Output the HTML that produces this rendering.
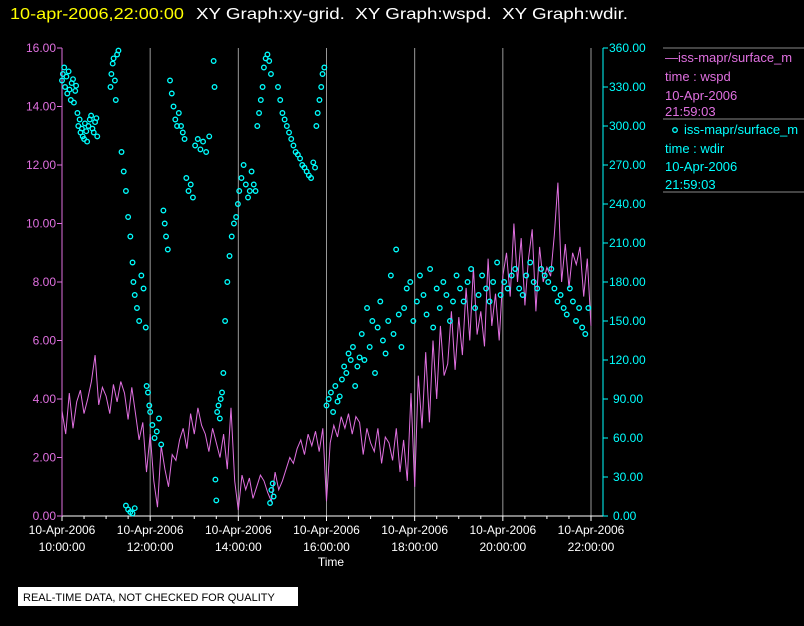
<!DOCTYPE html>
<html><head><meta charset="utf-8"><style>
body{margin:0;background:#000;width:804px;height:626px;overflow:hidden;font-family:"Liberation Sans",sans-serif}
svg{display:block}
</style></head><body>
<svg id="c" width="804" height="626">
<text x="10" y="19" fill="#ffff00" font-size="16" textLength="174" lengthAdjust="spacingAndGlyphs">10-apr-2006,22:00:00</text>
<text x="196" y="19" fill="#fff" font-size="16" xml:space="preserve" style="white-space:pre" textLength="432" lengthAdjust="spacingAndGlyphs">XY Graph:xy-grid.  XY Graph:wspd.  XY Graph:wdir.</text>
<g id="grid"></g><g id="axes"></g><g id="series"></g>
<g font-size="13">
<line x1="663" y1="48" x2="804" y2="48" stroke="#888"/>
<text x="665" y="62" fill="#e070e0">—iss-mapr/surface_m</text>
<text x="665" y="81" fill="#e070e0">time : wspd</text>
<text x="665" y="100" fill="#e070e0">10-Apr-2006</text>
<text x="665" y="116" fill="#e070e0">21:59:03</text>
<line x1="663" y1="119" x2="804" y2="119" stroke="#888"/>
<circle cx="675" cy="130" r="2.3" fill="none" stroke="#00ffff" stroke-width="1.3"/>
<text x="684" y="134" fill="#00ffff">iss-mapr/surface_m</text>
<text x="665" y="153" fill="#00ffff">time : wdir</text>
<text x="665" y="171" fill="#00ffff">10-Apr-2006</text>
<text x="665" y="189" fill="#00ffff">21:59:03</text>
<line x1="663" y1="192" x2="804" y2="192" stroke="#888"/>
</g>
<rect x="18" y="587" width="280" height="19" fill="#fff"/>
<text x="23" y="601" fill="#000" font-size="11">REAL-TIME DATA, NOT CHECKED FOR QUALITY</text>
<text x="331" y="566" fill="#fff" font-size="12" text-anchor="middle">Time</text>
</svg>
<script>
const xTickHours=[10,12,14,16,18,20,22];
const xTickTimes=["10:00:00","12:00:00","14:00:00","16:00:00","18:00:00","20:00:00","22:00:00"];
const leftTicks=[0,2,4,6,8,10,12,14,16];
const rightTicks=[0,30,60,90,120,150,180,210,240,270,300,330,360];
const wspdStart=10, wspdStepMin=5;
const wspd=[3.6,2.8,4.2,3.0,3.9,4.3,3.5,4.0,4.6,5.5,3.8,4.4,4.1,
3.5,4.5,3.9,4.6,4.2,3.3,4.4,3.5,2.6,3.2,1.5,2.8,
1.2,0.3,2.4,1.6,1.0,2.1,1.9,2.6,3.0,2.3,3.5,2.8,
3.7,3.1,2.8,2.2,3.0,2.5,2.0,2.8,1.6,3.7,1.2,0.2,
1.4,0.9,1.3,0.6,1.0,1.4,1.2,0.8,0.5,1.5,0.9,1.2,
1.6,2.0,1.8,2.3,2.6,2.1,2.8,2.4,2.9,2.2,3.0,0.5,
2.5,3.1,2.7,3.4,3.0,3.5,2.8,3.4,3.2,2.1,3.0,2.5,
2.2,3.0,1.8,2.7,2.5,1.9,3.0,1.5,2.6,1.2,4.2,1.0,
4.8,3.0,5.6,3.2,6.0,4.0,6.5,4.8,5.2,7.0,5.0,6.8,
5.5,7.8,6.0,8.5,6.2,7.0,5.8,8.8,6.5,7.6,6.0,8.2,
9.0,7.5,10.0,8.0,9.5,7.2,8.8,9.8,7.0,9.2,8.0,8.5,
8.2,9.6,11.4,8.0,9.3,7.8,9.0,8.6,9.2,7.5,8.8,6.5];
const wdirHours=[10.0,10.02,10.05,10.07,10.1,10.12,10.15,10.17,10.2,10.22,10.25,10.27,10.3,10.32,
10.35,10.37,10.4,10.42,10.45,10.47,10.5,10.52,10.55,10.57,
10.6,10.63,10.66,10.69,10.72,10.75,10.78,10.8,
11.1,11.12,11.15,11.17,11.2,11.22,11.25,11.28,
11.35,11.4,11.45,11.5,11.55,11.6,11.62,11.65,11.7,11.75,11.8,11.85,11.9,
11.45,11.5,11.55,11.6,11.65,
11.92,11.95,11.98,12.0,12.05,12.1,12.15,12.2,12.25,
12.3,12.33,12.36,12.4,
12.45,12.49,12.53,12.57,12.61,12.65,12.7,12.74,12.78,
12.82,12.87,12.92,12.97,
13.02,13.08,13.14,13.2,13.27,13.34,
13.44,13.46,13.48,13.5,
13.52,13.55,13.58,13.6,13.63,13.66,
13.7,13.75,13.8,13.85,13.9,13.95,13.99,
14.02,14.07,14.12,14.17,14.22,14.26,14.3,
14.35,14.39,14.43,14.47,14.51,14.55,
14.58,14.62,14.66,14.7,14.74,
14.72,14.75,14.78,14.8,
14.9,14.95,15.0,15.05,15.1,15.15,15.2,15.25,15.3,15.35,15.4,15.45,15.5,15.55,15.6,15.65,15.7,15.74,
15.77,15.8,15.84,15.88,15.91,15.95,
16.0,16.05,16.1,16.15,16.2,16.25,16.3,
16.35,16.4,16.45,16.5,16.55,16.6,16.65,16.7,16.75,
16.8,16.86,16.92,16.98,17.04,17.1,17.16,17.22,17.28,17.34,17.4,17.46,17.52,17.58,17.64,17.7,17.76,
17.82,17.9,17.97,18.05,18.12,18.2,18.27,18.35,18.42,18.5,18.57,18.65,18.72,18.8,18.87,18.95,
19.03,19.11,19.2,19.28,19.37,19.45,19.53,19.62,19.7,19.78,19.87,19.95,
20.03,20.11,20.2,20.28,20.37,20.45,20.53,20.62,20.7,20.78,20.87,20.95,
21.03,21.1,21.17,21.24,21.31,21.38,21.45,21.52,21.59,21.66,21.73,21.8,21.87,21.94];
const wdirVals=[335,340,345,330,338,325,342,328,320,333,336,318,327,331,
310,300,305,295,298,292,290,302,296,288,
300,305,308,298,295,303,306,292,
330,340,348,352,335,320,355,358,
280,265,250,230,215,195,180,170,160,150,185,175,145,
8,5,3,2,6,
100,95,85,80,70,60,65,75,55,
235,225,215,205,
335,325,315,305,300,310,300,295,290,
260,250,255,245,
285,290,282,288,280,292,
350,330,28,12,
80,85,75,90,95,110,
150,180,200,215,225,230,240,
250,260,270,255,245,250,265,
255,250,300,310,320,330,
345,352,355,350,340,
10,20,25,15,
330,320,310,305,300,295,290,285,280,278,275,270,268,265,262,260,272,268,
300,310,320,330,340,345,
85,90,95,80,100,88,92,
105,115,110,125,120,130,100,115,122,
140,120,160,130,150,110,145,165,135,125,150,185,140,205,155,130,160,
175,180,150,165,185,170,155,190,145,175,160,180,170,150,165,185,
175,165,180,190,160,170,185,175,165,180,195,170,
180,175,185,190,175,170,185,195,180,175,190,185,
180,190,175,165,170,160,155,175,165,150,160,145,140,160];

const X0=62,X1=591,YB=516,YT=48,RAX=603;
const xs=h=>X0+(h-10)/12*(X1-X0);
const yl=v=>YB-v/16*(YB-YT);
const yr=v=>YB-v/360*(YB-YT);
const NS="http://www.w3.org/2000/svg";
function mk(tag,attrs,parent){const e=document.createElementNS(NS,tag);for(const k in attrs)e.setAttribute(k,attrs[k]);parent.appendChild(e);return e;}
const grid=document.getElementById('grid'),axes=document.getElementById('axes'),ser=document.getElementById('series');
xTickHours.forEach((h,i)=>{
  if(i>0){const g=mk('line',{x1:xs(h),x2:xs(h),y1:YT,y2:YB,stroke:'#999','stroke-width':1},grid);
  
  }
  mk('line',{x1:xs(h),x2:xs(h),y1:YB,y2:YB+5,stroke:'#fff'},axes);
  const t=mk('text',{x:xs(h),y:YB+18,fill:'#fff','font-size':12,'text-anchor':'middle'},axes);
  t.textContent='10-Apr-2006';
  
  
  const t2=mk('text',{x:xs(h),y:YB+35,fill:'#fff','font-size':12,'text-anchor':'middle'},axes);
  t2.textContent=xTickTimes[i];
});
for(let h=10.5;h<22;h+=0.5){if(h%2)mk('line',{x1:xs(h),x2:xs(h),y1:YB,y2:YB+3,stroke:'#fff'},axes);}
const xa=mk('line',{x1:X0,x2:RAX,y1:YB,y2:YB,stroke:'#fff'},axes);


const la=mk('line',{x1:X0,x2:X0,y1:YT,y2:YB,stroke:'#e070e0'},axes);


leftTicks.forEach(v=>{mk('line',{x1:X0-5,x2:X0,y1:yl(v),y2:yl(v),stroke:'#e070e0'},axes);
  const t=mk('text',{x:X0-6,y:yl(v)+4,fill:'#e070e0','font-size':12,'text-anchor':'end'},axes);t.textContent=v.toFixed(2);
  
  });
const ra=mk('line',{x1:RAX,x2:RAX,y1:YT,y2:YB,stroke:'#00ffff'},axes);


rightTicks.forEach(v=>{mk('line',{x1:RAX,x2:RAX+5,y1:yr(v),y2:yr(v),stroke:'#00ffff'},axes);
  const t=mk('text',{x:RAX+(v<100?10:6),y:yr(v)+4,fill:'#00ffff','font-size':12},axes);t.textContent=v.toFixed(2);
  
  });
const pts=wspd.map((v,i)=>xs(wspdStart+i*wspdStepMin/60).toFixed(1)+','+yl(v).toFixed(1)).join(' ');
const pl=mk('polyline',{points:pts,fill:'none',stroke:'#e070e0','stroke-width':1},ser);


wdirHours.forEach((h,i)=>{const c=mk('circle',{cx:xs(h),cy:yr(wdirVals[i]),r:2.3,fill:'none',stroke:'#00ffff','stroke-width':1.3},ser);
  
  });
</script>
</body></html>
